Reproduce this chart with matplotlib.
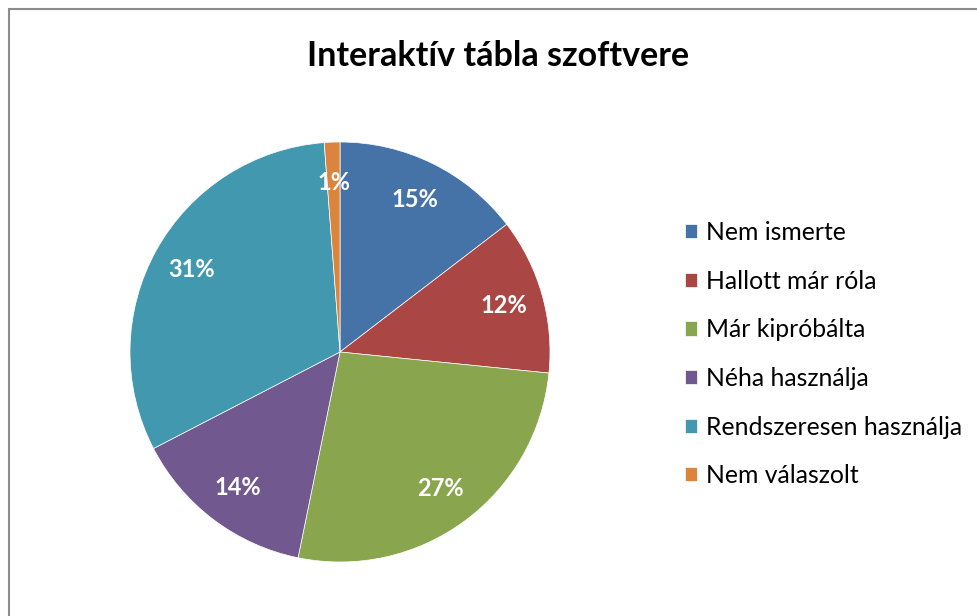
import matplotlib.pyplot as plt
from matplotlib.patches import Rectangle

# survey answers (percent)
categories = ['Nem ismerte', 'Hallott már róla', 'Már kipróbálta',
              'Néha használja', 'Rendszeresen használja', 'Nem válaszolt']
values = [14.6, 12.0, 26.6, 14.2, 31.4, 1.2]
colors = ['#4572A7', '#AA4643', '#89A54E', '#71588F', '#4198AF', '#DB843D']
title = 'Interaktív tábla szoftvere'

plt.rcParams['font.family'] = ['Lato', 'DejaVu Sans']

fig = plt.figure(figsize=(9.78, 6.16), dpi=100)

# pie centre ~ (340, 352) px, radius ~210 px
ax = fig.add_axes([130 / 978, 54 / 616, 420 / 978, 420 / 616])
wedges, texts, autotexts = ax.pie(
    values, colors=colors, startangle=90, counterclock=False,
    autopct='%1.0f%%', pctdistance=0.81, radius=1.0,
    wedgeprops=dict(edgecolor='white', linewidth=0.5),
    textprops=dict(color='white', fontsize=17, fontweight='bold'))
ax.set_xlim(-1, 1)
ax.set_ylim(-1, 1)
ax.set_aspect('equal')
ax.axis('off')

fig.text(498 / 978, 1 - 56 / 616, title, ha='center', va='center',
         fontsize=24.5, fontweight='bold', color='black')

fig.legend(wedges, categories, loc='upper left',
           bbox_to_anchor=(685 / 978, 1 - 221 / 616),
           frameon=False, fontsize=17.8, handlelength=0.5, handleheight=0.5,
           handletextpad=0.35, labelspacing=1.037, borderpad=0, borderaxespad=0)

# chart frame, cut off at the right and bottom
fig.patches.append(Rectangle((8.5 / 978, -0.1), 1.2, 1.1 - 9 / 616,
                             transform=fig.transFigure, fill=False,
                             edgecolor='#8c8c8c', linewidth=1.5))

fig.savefig('out.png', dpi=100)
